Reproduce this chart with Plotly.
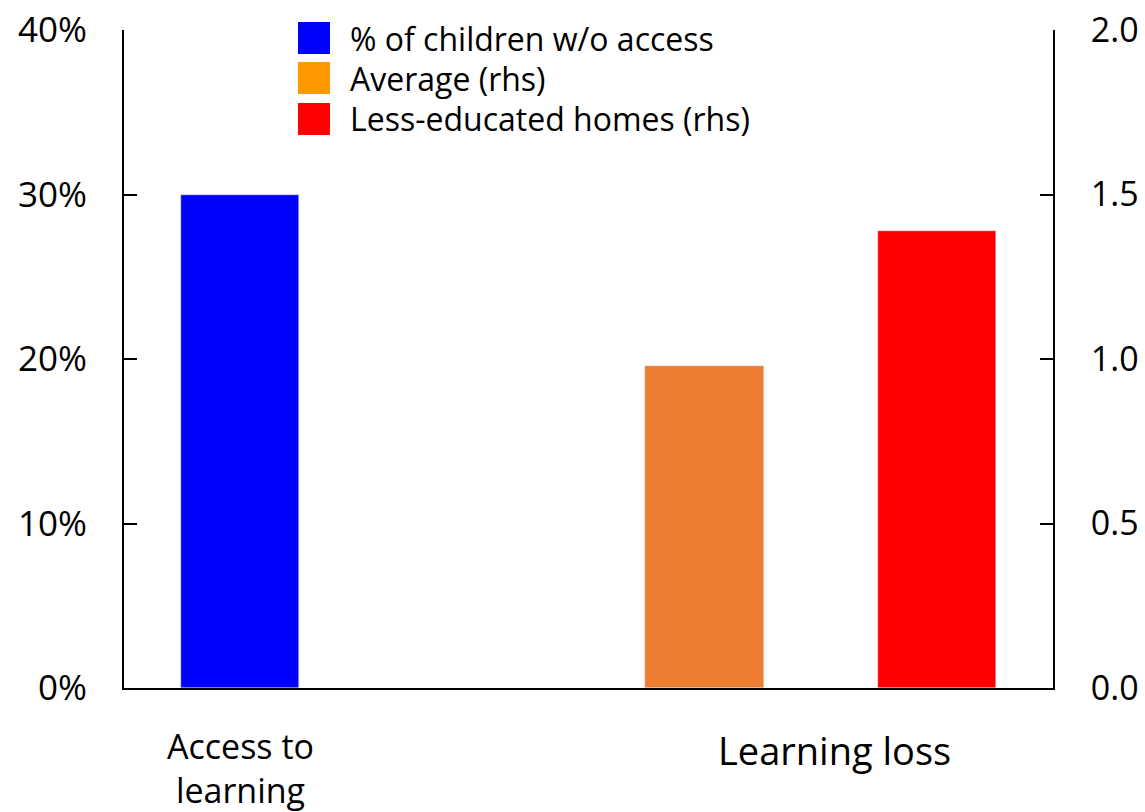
import plotly.graph_objects as go

# Share of children without access to learning (left axis, %)
access_label = "Access to<br>learning"
access_share = [30.0]

# Learning loss (right axis)
loss_label = "Learning loss"
loss_average = [0.98]
loss_less_educated = [1.39]

series_names = ["% of children w/o access", "Average (rhs)", "Less-educated homes (rhs)"]
bar_colors = ["#0000FF", "#ED7D31", "#FF0000"]
legend_colors = ["#0000FF", "#FF9900", "#FF0000"]

left_ticks = [0, 10, 20, 30, 40]
left_ticktext = ["0%", "10%", "20%", "30%", "40%"]
right_ticks = [0, 0.5, 1.0, 1.5, 2.0]
right_ticktext = ["0.0", "0.5", "1.0", "1.5", "2.0"]

FONT = "Open Sans"

# slot positions along the x axis: one bar for the first group, two for the second
pos_access = [0]
pos_avg = [2]
pos_less = [3]
group_centres = [0, 2.5]

# figure and plot-area geometry in pixels
W, H = 1145, 812
ML, MR, MT, MB = 124, 92, 30, 124
PW, PH = W - ML - MR, H - MT - MB


def px_x(px):
    return (px - ML) / PW


def px_y(py):
    return (H - MB - py) / PH


fig = go.Figure()
fig.add_trace(go.Bar(x=pos_access, y=access_share, name=series_names[0],
                     marker_color=bar_colors[0], width=0.51, yaxis="y",
                     showlegend=False))
fig.add_trace(go.Bar(x=pos_avg, y=loss_average, name=series_names[1],
                     marker_color=bar_colors[1], width=0.51, yaxis="y2",
                     showlegend=False))
fig.add_trace(go.Bar(x=pos_less, y=loss_less_educated, name=series_names[2],
                     marker_color=bar_colors[2], width=0.51, yaxis="y2",
                     showlegend=False))

# legend drawn as large swatches with labels
row_centres = [38, 78, 119]
for name, col, yc in zip(series_names, legend_colors, row_centres):
    fig.add_shape(type="rect", xref="paper", yref="paper",
                  x0=px_x(298), x1=px_x(330), y0=px_y(yc + 16), y1=px_y(yc - 16),
                  fillcolor=col, line_width=0, layer="above")
    fig.add_annotation(xref="paper", yref="paper",
                       x=px_x(348), y=px_y(yc), xanchor="left",
                       yanchor="middle", text=name, showarrow=False,
                       font=dict(family=FONT, size=32, color="black"))

# category labels under each group
fig.add_annotation(x=group_centres[0], y=0, xref="x", yref="paper",
                   yshift=-33, yanchor="top", text=access_label, showarrow=False,
                   font=dict(family=FONT, size=34, color="black"))
fig.add_annotation(x=group_centres[1], y=0, xref="x", yref="paper",
                   yshift=-34, xshift=14, yanchor="top", text=loss_label,
                   showarrow=False,
                   font=dict(family=FONT, size=38, color="black"))

fig.update_layout(
    width=W, height=H,
    margin=dict(l=ML, r=MR, t=MT, b=MB, autoexpand=False),
    paper_bgcolor="white", plot_bgcolor="white",
    font=dict(family=FONT, size=35, color="black"),
    showlegend=False,
    bargap=0,
    xaxis=dict(range=[-0.5, 3.5], showticklabels=False, ticks="",
               showgrid=False, zeroline=False, showline=True,
               linecolor="black", linewidth=2, fixedrange=True,
               automargin=False),
    yaxis=dict(range=[0, 40], tickvals=left_ticks, ticktext=left_ticktext,
               ticks="inside", ticklen=13, tickwidth=2, tickcolor="black",
               showline=True, linecolor="black", linewidth=2,
               showgrid=False, zeroline=False, ticklabelstandoff=28,
               automargin=False,
               tickfont=dict(family=FONT, size=35, color="black")),
    yaxis2=dict(range=[0, 2.0], tickvals=right_ticks, ticktext=right_ticktext,
                overlaying="y", side="right",
                ticks="inside", ticklen=13, tickwidth=2, tickcolor="black",
                showline=True, linecolor="black", linewidth=2,
                showgrid=False, zeroline=False, ticklabelstandoff=29,
                automargin=False,
                tickfont=dict(family=FONT, size=34, color="black")),
)

fig.write_html("out.html")
